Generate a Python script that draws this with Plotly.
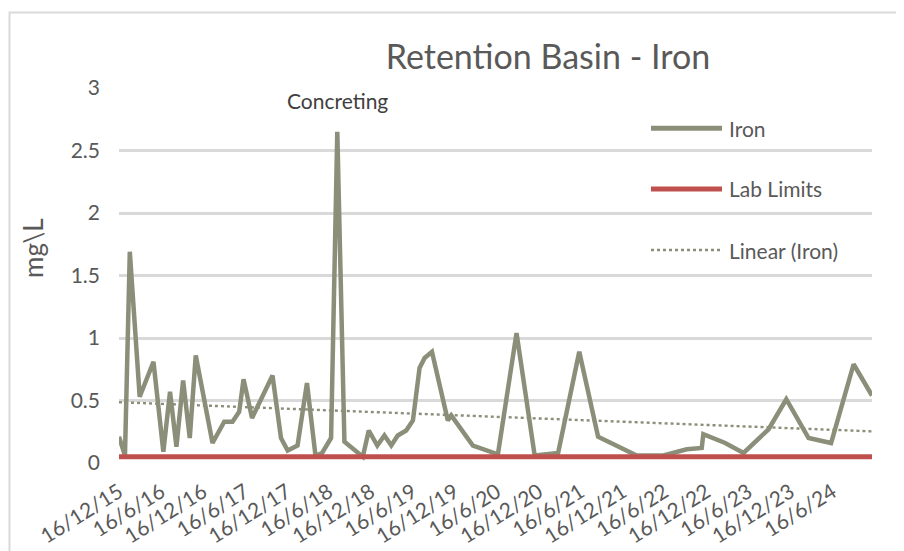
import numpy as np
import pandas as pd
import plotly.graph_objects as go

# ---- data ----
dates = [
    "2015-12-16", "2016-01-11", "2016-02-01", "2016-03-15", "2016-05-14", "2016-06-26",
    "2016-07-25", "2016-08-22", "2016-09-20", "2016-10-19", "2016-11-14", "2017-01-26",
    "2017-03-18", "2017-04-23", "2017-05-22", "2017-06-10", "2017-07-17", "2017-10-14",
    "2017-11-20", "2017-12-19", "2018-01-31", "2018-03-13", "2018-04-19", "2018-05-18",
    "2018-06-26", "2018-07-23", "2018-08-23", "2018-11-11", "2018-12-07", "2019-01-13",
    "2019-02-13", "2019-03-15", "2019-04-12", "2019-05-19", "2019-06-17", "2019-07-16",
    "2019-08-07", "2019-09-08", "2019-11-16", "2019-12-01", "2020-03-04", "2020-06-21",
    "2020-09-10", "2020-11-28", "2021-03-10", "2021-06-10", "2021-08-31", "2022-02-15",
    "2022-06-11", "2022-09-21", "2022-11-25", "2022-12-02", "2023-03-07", "2023-05-26",
    "2023-09-12", "2023-11-28", "2024-03-04", "2024-06-10", "2024-09-16", "2024-12-05",
]
iron = [
    0.21, 0.06, 1.69, 0.53, 0.81, 0.09,
    0.57, 0.13, 0.66, 0.20, 0.86, 0.16,
    0.33, 0.33, 0.41, 0.67, 0.36, 0.70,
    0.20, 0.10, 0.14, 0.64, 0.06, 0.08,
    0.20, 2.65, 0.17, 0.05, 0.26, 0.14,
    0.22, 0.14, 0.22, 0.26, 0.34, 0.76,
    0.84, 0.89, 0.34, 0.38, 0.14, 0.07,
    1.04, 0.06, 0.08, 0.89, 0.21, 0.06,
    0.06, 0.11, 0.12, 0.23, 0.16, 0.08,
    0.27, 0.51, 0.20, 0.16, 0.79, 0.54,
]
lab_limit_value = 0.05
lab_limits = [lab_limit_value] * len(dates)

title_text = "Retention Basin - Iron"
y_title = "mg\\L"
y_ticks = [0, 0.5, 1, 1.5, 2, 2.5, 3]
y_tick_labels = ["0", "0.5", "1", "1.5", "2", "2.5", "3"]
annotation_text = "Concreting"
annotation_date = "2018-07-23"
annotation_value = 2.9
legend_names = ["Iron", "Lab Limits", "Linear (Iron)"]

# ---- linear trendline (as Excel computes it) ----
dt = pd.to_datetime(dates)
xnum = (dt - dt[0]).days.values.astype(float)
slope, intercept = np.polyfit(xnum, np.array(iron), 1)
trend_y = [intercept + slope * xnum[0], intercept + slope * xnum[-1]]
trend_x = [dates[0], dates[-1]]

IRON_C = "#8b8f79"
RED_C = "#c0504d"
GRID_C = "#d9d9d9"
TEXT_C = "#595959"
FONT = "Lato"

# page body has an 8px margin; plot area on screen: x 119..872, y 88..463
ML, MT, PW, PH = 111, 80, 753, 375
W, H = 904, 551

fig = go.Figure()
fig.add_trace(go.Scatter(x=trend_x, y=trend_y, mode="lines", name=legend_names[2],
                         line=dict(color=IRON_C, width=2.4, dash="dot"), showlegend=False))
fig.add_trace(go.Scatter(x=dates, y=iron, mode="lines", name=legend_names[0],
                         line=dict(color=IRON_C, width=4.5), showlegend=False))
fig.add_trace(go.Scatter(x=dates, y=lab_limits, mode="lines", name=legend_names[1],
                         line=dict(color=RED_C, width=5), showlegend=False))

# manual legend (Excel-like long samples)
leg_y = [0.893, 0.731, 0.568]
leg_x0, leg_x1, leg_tx = 0.7065, 0.8008, 0.8075
styles = [dict(color=IRON_C, width=5), dict(color=RED_C, width=5),
          dict(color=IRON_C, width=2.5, dash="dot")]
shapes = []
annotations = []
for yy, st, nm in zip(leg_y, styles, legend_names):
    shapes.append(dict(type="line", xref="paper", yref="paper", x0=leg_x0, x1=leg_x1,
                       y0=yy, y1=yy, line=st, layer="above"))
    annotations.append(dict(xref="paper", yref="paper", x=leg_tx, y=yy, text=nm,
                            showarrow=False, xanchor="left", yanchor="middle",
                            font=dict(family=FONT, size=21, color=TEXT_C)))

# chart border (Excel chart area), left edge just inside the figure
shapes.append(dict(type="rect", xref="paper", yref="paper",
                   x0=(1.5 - ML) / PW, x1=1.3, y0=-0.6, y1=1 + (88 - 12.5) / PH,
                   line=dict(color=GRID_C, width=2), fillcolor="rgba(0,0,0,0)", layer="below"))

annotations.append(dict(x=annotation_date, y=annotation_value, xref="x", yref="y",
                        text=annotation_text, showarrow=False,
                        font=dict(family=FONT, size=21, color="#404040")))
annotations.append(dict(xref="paper", yref="paper", x=(33 - 119) / PW, y=(463 - 248) / PH,
                        xanchor="center", yanchor="middle",
                        text=y_title, textangle=-90, showarrow=False,
                        font=dict(family=FONT, size=26, color=TEXT_C)))

fig.update_layout(
    width=W, height=H,
    margin=dict(l=ML, r=W - ML - PW, t=MT, b=H - MT - PH, autoexpand=False),
    paper_bgcolor="white", plot_bgcolor="white",
    title=dict(text=title_text, x=540 / W, xanchor="center", y=1 - 49 / H, yanchor="middle",
               font=dict(family=FONT, size=34, color=TEXT_C)),
    font=dict(family=FONT, color=TEXT_C),
    shapes=shapes, annotations=annotations, showlegend=False,
    xaxis=dict(type="date", range=[dates[0], dates[-1]], tick0=dates[0], dtick="M6",
               tickformat="%-d/%-m/%y", tickangle=-32, showgrid=False, zeroline=False,
               showline=False, ticks="", tickfont=dict(family=FONT, size=21, color=TEXT_C),
               ticklabelstandoff=12, automargin=False),
    yaxis=dict(range=[0, 3], tickvals=y_ticks, ticktext=y_tick_labels, showgrid=True,
               gridcolor=GRID_C, gridwidth=2.5, zeroline=False, showline=False, ticks="",
               tickfont=dict(family=FONT, size=21, color=TEXT_C), ticklabelstandoff=18,
               automargin=False),
)

fig.write_html("out.html")
